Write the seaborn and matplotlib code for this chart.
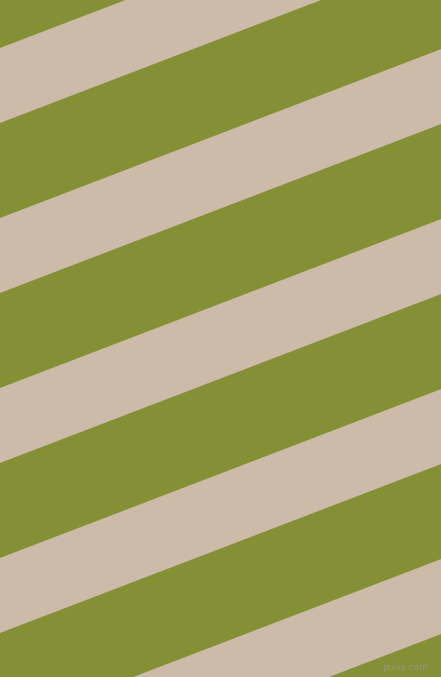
import numpy as np
import matplotlib
matplotlib.use("Agg")
import matplotlib.pyplot as plt
import seaborn as sns

# stripe data (pixel units, measured at the left edge)
stripe_starts = [-122, 48, 218, 388, 558, 728]   # top edge of each beige band at x=0
stripe_width = 75                                 # vertical thickness of a beige band
rise = 0.383                                      # how far the bands climb per pixel to the right
green = "#848F36"
beige = "#CCBBA8"

sns.set_style("white")

fig = plt.figure(figsize=(4.41, 6.77), dpi=100)
ax = fig.add_axes([0, 0, 1, 1])
ax.set_facecolor(green)

x = np.array([0, 441])
for top in stripe_starts:
    ax.fill_between(x, top - rise * x, top + stripe_width - rise * x,
                    color=beige, linewidth=0)

ax.text(428, 667, "pixlis.com", fontsize=6.5, color="#9a9a8a", alpha=0.8,
        ha="right", va="center")

ax.set_xlim(0, 441)
ax.set_ylim(677, 0)
ax.axis("off")
fig.patch.set_facecolor(green)
fig.savefig("out.png", dpi=100, facecolor=green)
